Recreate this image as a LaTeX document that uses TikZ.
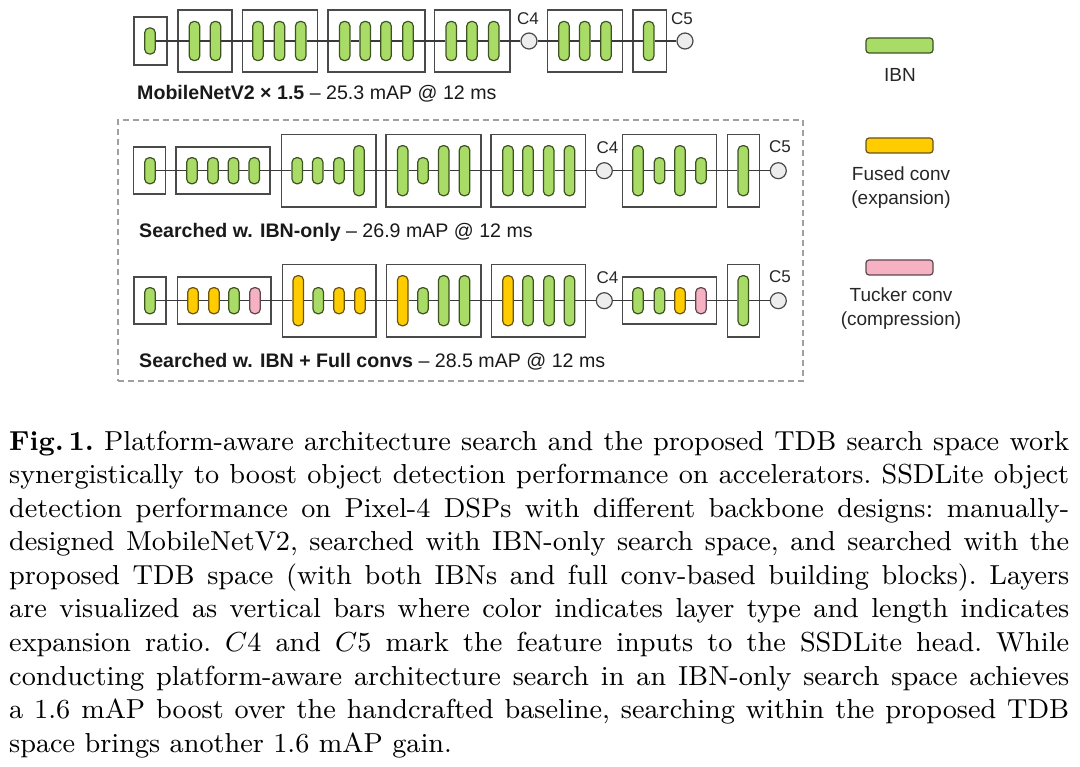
\documentclass[tikz,border=0pt]{standalone}
\usepackage{fontspec}
\newfontfamily\arial{Liberation Sans}
\usepackage{graphicx}
\definecolor{ibnfill}{HTML}{A8DC66}
\definecolor{ibnline}{HTML}{3E5222}
\definecolor{fusfill}{HTML}{FFCC00}
\definecolor{fusline}{HTML}{6A5410}
\definecolor{tucfill}{HTML}{F6B2C2}
\definecolor{tucline}{HTML}{5E4650}
\definecolor{boxc}{HTML}{4A4A4A}
\definecolor{linec}{HTML}{3A3A3A}
\definecolor{featfill}{HTML}{EDEDED}
\definecolor{dashc}{HTML}{A0A0A0}
\newcommand\capline[1]{\makebox[\linewidth][s]{#1}\\}
\begin{document}
\begin{tikzpicture}[x=1pt,y=-1pt,
  blk/.style={draw=boxc, line width=1.4pt, inner sep=0pt},
  barbase/.style={rounded corners=4.5pt, minimum width=10.5pt, inner sep=0pt, line width=1.2pt},
  ibn/.style={barbase, fill=ibnfill, draw=ibnline},
  fus/.style={barbase, fill=fusfill, draw=fusline},
  tuc/.style={barbase, fill=tucfill, draw=tucline},
  sm/.style={minimum height=26pt},
  md/.style={minimum height=39pt},
  tl/.style={minimum height=50pt},
  feat/.style={circle, draw=boxc, fill=featfill, minimum size=16pt, inner sep=0pt, line width=1.2pt},
  conn/.style={draw=linec, line width=1.5pt},
  clbl/.style={font=\arial\fontsize{17}{19}\selectfont, inner sep=0pt, text=black!85},
  rowlbl/.style={font=\arial\fontsize{19.6}{22}\selectfont, anchor=base west, inner sep=0pt, text=black!90},
  leglbl/.style={font=\arial\fontsize{19}{24}\selectfont, align=center, inner sep=0pt, text=black!85},
  legbar/.style={minimum width=67pt, minimum height=15pt, rounded corners=3pt, inner sep=0pt, line width=1.2pt}
]
\useasboundingbox (0,0) rectangle (1080,767);

% ---------- dashed group ----------
\node[draw=dashc, line width=1.3pt, dash pattern=on 6pt off 4pt, minimum width=685pt, minimum height=261pt, inner sep=0pt] (grp) at (460.5,250.5) {};

% ---------- Row 1 : MobileNetV2 ----------
\node[blk, minimum width=33pt, minimum height=48pt] (r1k1) at (150.5,41) {};
\node[blk, minimum width=54pt, minimum height=62pt] (r1k2) at (205,41) {};
\node[blk, minimum width=74.6pt, minimum height=62pt] (r1k3) at (280,41) {};
\node[blk, minimum width=97pt, minimum height=62pt] (r1k4) at (376.5,41) {};
\node[blk, minimum width=75.7pt, minimum height=62pt] (r1k5) at (472.2,41) {};
\node[blk, minimum width=74.6pt, minimum height=62pt] (r1k6) at (585,41) {};
\node[blk, minimum width=33.7pt, minimum height=62pt] (r1k7) at (649.8,41) {};
\foreach \n/\x/\t/\h in {1/150/ibn/sm, 2/194.5/ibn/md, 3/215.5/ibn/md,
  4/258/ibn/md, 5/279.5/ibn/md, 6/300.7/ibn/md,
  7/344.7/ibn/md, 8/365.3/ibn/md, 9/386/ibn/md, 10/408/ibn/md,
  11/451.3/ibn/md, 12/472/ibn/md, 13/493.7/ibn/md,
  14/564/ibn/md, 15/584.7/ibn/md, 16/606/ibn/md, 17/648.7/ibn/md}
  \node[\t,\h] (r1b\n) at (\x,41) {};
\node[feat] (r1c4) at (529,41) {};
\node[feat] (r1c5) at (685,41) {};
\node[clbl] (r1c4l) at (528,19) {C4};
\node[clbl] (r1c5l) at (682,19) {C5};
\foreach \i [evaluate=\i as \j using int(\i+1)] in {1,...,12,14,15,16}
  \draw[conn] (r1b\i) -- (r1b\j);
\draw[conn] (r1b13) -- (r1c4);
\draw[conn] (r1c4) -- (r1b14);
\draw[conn] (r1b17) -- (r1c5);
\node[rowlbl] (r1lbl) at (137,100) {{\bfseries MobileNetV2 × 1.5} – 25.3 mAP @ 12 ms};

% ---------- Row 2 : IBN-only ----------
\node[blk, minimum width=32.4pt, minimum height=47pt] (r2k1) at (149.5,170.7) {};
\node[blk, minimum width=94pt, minimum height=47pt] (r2k2) at (223,170.7) {};
\node[blk, minimum width=94.3pt, minimum height=72.4pt] (r2k3) at (328.8,170.7) {};
\node[blk, minimum width=95pt, minimum height=72.4pt] (r2k4) at (433.5,170.7) {};
\node[blk, minimum width=94.7pt, minimum height=72.4pt] (r2k5) at (538.3,170.7) {};
\node[blk, minimum width=94.4pt, minimum height=72.4pt] (r2k6) at (669.5,170.7) {};
\node[blk, minimum width=32pt, minimum height=72.4pt] (r2k7) at (743.3,170.7) {};
\foreach \n/\x/\t/\h in {1/150/ibn/sm,
  2/192/ibn/sm, 3/213/ibn/sm, 4/233.5/ibn/sm, 5/254.3/ibn/sm,
  6/297.3/ibn/sm, 7/317.7/ibn/sm, 8/339/ibn/sm, 9/359/ibn/tl,
  10/402.7/ibn/tl, 11/423/ibn/sm, 12/443.7/ibn/tl, 13/464.5/ibn/tl,
  14/508/ibn/tl, 15/528/ibn/tl, 16/548.7/ibn/tl, 17/569.5/ibn/tl,
  18/638/ibn/tl, 19/659.5/ibn/sm, 20/680/ibn/tl, 21/701/ibn/sm,
  22/743.3/ibn/tl}
  \node[\t,\h] (r2b\n) at (\x,170.7) {};
\node[feat] (r2c4) at (604.3,170.7) {};
\node[feat] (r2c5) at (778.3,170.7) {};
\node[clbl] (r2c4l) at (607.5,147.5) {C4};
\node[clbl] (r2c5l) at (780,147) {C5};
\foreach \i [evaluate=\i as \j using int(\i+1)] in {1,...,16,18,19,20,21}
  \draw[conn] (r2b\i) -- (r2b\j);
\draw[conn] (r2b17) -- (r2c4);
\draw[conn] (r2c4) -- (r2b18);
\draw[conn] (r2b22) -- (r2c5);
\node[rowlbl] (r2lbl) at (139,238) {{\bfseries Searched w. IBN-only} – 26.9 mAP @ 12 ms};

% ---------- Row 3 : IBN + Full convs ----------
\node[blk, minimum width=32pt, minimum height=47pt] (r3k1) at (150,300.7) {};
\node[blk, minimum width=93.7pt, minimum height=47pt] (r3k2) at (224.2,300.7) {};
\node[blk, minimum width=93.7pt, minimum height=72.4pt] (r3k3) at (329.2,300.7) {};
\node[blk, minimum width=94.3pt, minimum height=72.4pt] (r3k4) at (433.8,300.7) {};
\node[blk, minimum width=94pt, minimum height=72.4pt] (r3k5) at (538.7,300.7) {};
\node[blk, minimum width=94pt, minimum height=47pt] (r3k6) at (669.7,300.7) {};
\node[blk, minimum width=32pt, minimum height=72.4pt] (r3k7) at (743.3,300.7) {};
\foreach \n/\x/\t/\h in {1/150/ibn/sm,
  2/193/fus/sm, 3/214/fus/sm, 4/234/ibn/sm, 5/255/tuc/sm,
  6/298.3/fus/tl, 7/318.3/ibn/sm, 8/339/fus/sm, 9/360/fus/sm,
  10/402.7/fus/tl, 11/423/ibn/sm, 12/443.7/ibn/tl, 13/464.5/ibn/tl,
  14/508/fus/tl, 15/528/ibn/tl, 16/549/ibn/tl, 17/569.5/ibn/tl,
  18/638/ibn/sm, 19/659.5/ibn/sm, 20/680/fus/sm, 21/701/tuc/sm,
  22/743.3/ibn/tl}
  \node[\t,\h] (r3b\n) at (\x,300.7) {};
\node[feat] (r3c4) at (604.3,300.7) {};
\node[feat] (r3c5) at (778.3,300.7) {};
\node[clbl] (r3c4l) at (607.5,277.5) {C4};
\node[clbl] (r3c5l) at (780,277) {C5};
\foreach \i [evaluate=\i as \j using int(\i+1)] in {1,...,16,18,19,20,21}
  \draw[conn] (r3b\i) -- (r3b\j);
\draw[conn] (r3b17) -- (r3c4);
\draw[conn] (r3c4) -- (r3b18);
\draw[conn] (r3b22) -- (r3c5);
\node[rowlbl] (r3lbl) at (139,368) {{\bfseries Searched w. IBN + Full convs} – 28.5 mAP @ 12 ms};

% ---------- Legend ----------
\node[legbar, fill=ibnfill, draw=ibnline] (legibn) at (899.5,45.5) {};
\node[leglbl] (legibnl) at (900,75) {IBN};
\node[legbar, fill=fusfill, draw=fusline] (legfus) at (899.5,145.5) {};
\node[leglbl] (legfusl) at (901,187.5) {Fused conv\\(expansion)};
\node[legbar, fill=tucfill, draw=tucline] (legtuc) at (899.5,267.5) {};
\node[leglbl] (legtucl) at (901,308.5) {Tucker conv\\(compression)};

% ---------- Caption ----------
\node[anchor=base west, inner sep=0pt] (caption) at (9,450) {\scalebox{3.054}{\parbox[t]{347.1pt}{\fontsize{9}{11}\selectfont\frenchspacing\setlength{\parindent}{0pt}%
\capline{\textbf{Fig.\,1.} Platform-aware architecture search and the proposed TDB search space work}
\capline{synergistically to boost object detection performance on accelerators. SSDLite object}
\capline{detection performance on Pixel-4 DSPs with different backbone designs: manually-}
\capline{designed MobileNetV2, searched with IBN-only search space, and searched with the}
\capline{proposed TDB space (with both IBNs and full conv-based building blocks). Layers}
\capline{are visualized as vertical bars where color indicates layer type and length indicates}
\capline{expansion ratio. $C4$ and $C5$ mark the feature inputs to the SSDLite head. While}
\capline{conducting platform-aware architecture search in an IBN-only search space achieves}
\capline{a 1.6 mAP boost over the handcrafted baseline, searching within the proposed TDB}
space brings another 1.6 mAP gain.}}};
\end{tikzpicture}
\end{document}
